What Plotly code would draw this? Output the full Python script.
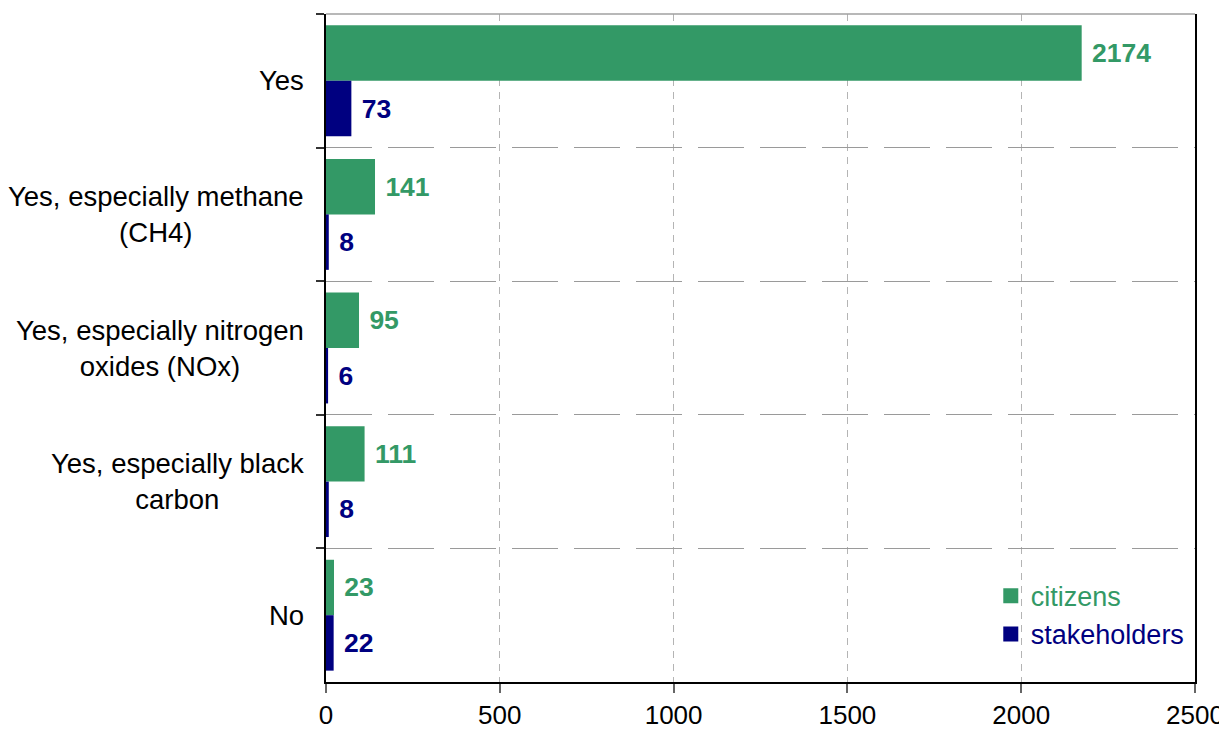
import plotly.graph_objects as go

categories = ["Yes", "Yes, especially methane (CH4)", "Yes, especially nitrogen oxides (NOx)",
              "Yes, especially black carbon", "No"]
category_labels = ["Yes", "Yes, especially methane<br>(CH4)", "Yes, especially nitrogen<br>oxides (NOx)",
                   "Yes, especially black<br>carbon", "No"]
citizens = [2174, 141, 95, 111, 23]
stakeholders = [73, 8, 6, 8, 22]
x_ticks = [0, 500, 1000, 1500, 2000, 2500]

GREEN = "#339966"
NAVY = "#000080"
FONT = "Liberation Sans, Arial, sans-serif"

fig = go.Figure()
for name, vals, col in [("citizens", citizens, GREEN), ("stakeholders", stakeholders, NAVY)]:
    fig.add_trace(go.Bar(
        y=categories, x=vals, orientation="h", name=name, showlegend=False,
        marker=dict(color=col, line=dict(width=0)),
        texttemplate="\u00a0%{x}", textposition="outside",
        textfont=dict(color=col, size=26.5, family=FONT, weight="bold"),
        cliponaxis=False,
    ))
# legend entries (square symbols, coloured text)
for name, col in [("citizens", GREEN), ("stakeholders", NAVY)]:
    fig.add_trace(go.Scatter(
        x=[None], y=[None], mode="markers", name=f"<span style='color:{col}'>{name}</span>",
        marker=dict(symbol="square", size=15, color=col), showlegend=True,
    ))

for cat, lab in zip(categories, category_labels):
    fig.add_annotation(x=0, xref="paper", y=cat, yref="y", text=lab, showarrow=False,
                       xanchor="right", yanchor="middle", align="center", xshift=-20,
                       font=dict(size=27.5, color="black", family=FONT))

# top border (grey)
fig.add_shape(type="line", xref="paper", yref="paper", x0=0, x1=1, y0=1, y1=1,
              line=dict(color="#a0a0a0", width=1.5))

fig.update_layout(
    width=1227, height=732,
    margin=dict(l=318, r=40, t=6, b=58),
    paper_bgcolor="white", plot_bgcolor="white",
    barmode="group", bargap=0.17, bargroupgap=0,
    font=dict(family=FONT, size=26, color="black"),
    showlegend=True,
    legend=dict(x=0.765, y=0.165, xanchor="left", yanchor="top",
                bgcolor="rgba(0,0,0,0)", font=dict(size=27, family=FONT),
                traceorder="normal", itemwidth=30),
    xaxis=dict(range=[0, 2500], tickvals=x_ticks, ticktext=[str(v) for v in x_ticks],
               showgrid=True, gridcolor="#b4b4b4", griddash="7px,6px", gridwidth=1,
               showline=True, linecolor="black", linewidth=2, automargin=False,
               ticks="outside", ticklen=9, tickcolor="#666", tickwidth=1.5,
               zeroline=False, tickfont=dict(size=26, family=FONT, color="black")),
    yaxis=dict(type="category", autorange="reversed", tickson="boundaries",
               showticklabels=False, showgrid=True, gridcolor="#9a9a9a",
               griddash="46px,16px", gridwidth=1, automargin=False,
               showline=True, mirror=True, linecolor="black", linewidth=2,
               ticks="outside", ticklen=8, tickcolor="#333", tickwidth=1.5),
)

fig.write_html("out.html")
